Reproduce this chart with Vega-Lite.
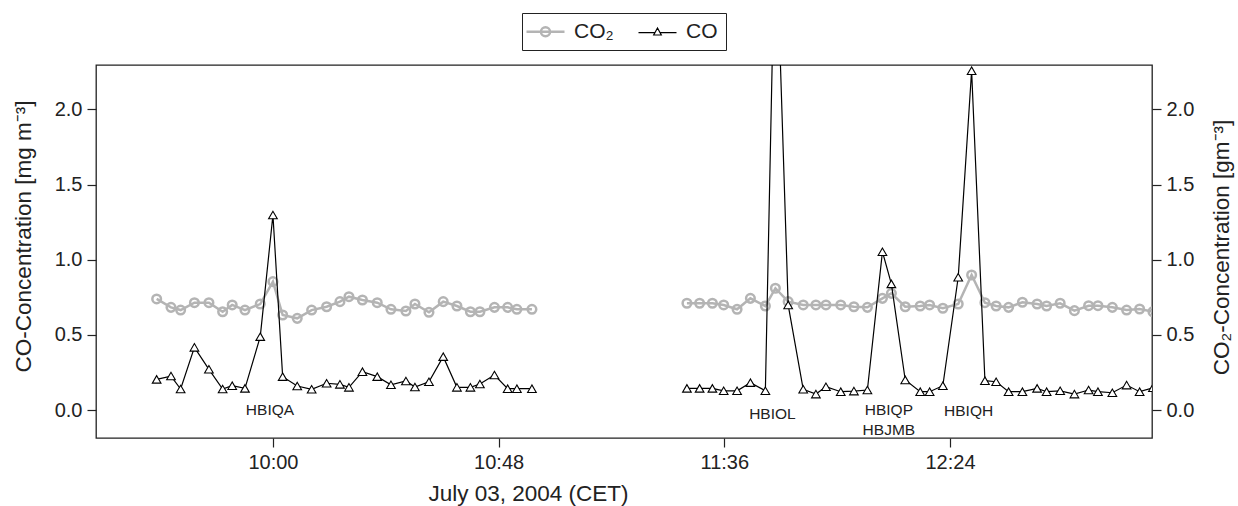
{
  "$schema": "https://vega.github.io/schema/vega-lite/v6.json",
  "width": 1056,
  "height": 373,
  "autosize": {"type": "none"},
  "padding": {"left": 96, "top": 65, "right": 86, "bottom": 68},
  "background": "white",
  "config": {
    "font": "Liberation Sans",
    "view": {"stroke": "#222222", "strokeWidth": 1.3},
    "axis": {
      "labelFont": "Liberation Sans", "titleFont": "Liberation Sans",
      "labelFontSize": 20, "titleFontSize": 22.5, "titleFontWeight": "normal",
      "labelColor": "#222222", "titleColor": "#222222", "tickColor": "#222222",
      "tickSize": 9, "tickWidth": 1.2, "domain": false, "grid": false, "labelPadding": 5
    }
  },
  "datasets": {
    "co2": [
      {"time": "2004-07-03T09:35:16", "value": 0.739, "period": 1, "series": "CO₂"},
      {"time": "2004-07-03T09:38:19", "value": 0.683, "period": 1, "series": "CO₂"},
      {"time": "2004-07-03T09:40:22", "value": 0.665, "period": 1, "series": "CO₂"},
      {"time": "2004-07-03T09:43:18", "value": 0.714, "period": 1, "series": "CO₂"},
      {"time": "2004-07-03T09:46:23", "value": 0.714, "period": 1, "series": "CO₂"},
      {"time": "2004-07-03T09:49:18", "value": 0.654, "period": 1, "series": "CO₂"},
      {"time": "2004-07-03T09:51:20", "value": 0.699, "period": 1, "series": "CO₂"},
      {"time": "2004-07-03T09:54:03", "value": 0.665, "period": 1, "series": "CO₂"},
      {"time": "2004-07-03T09:57:18", "value": 0.705, "period": 1, "series": "CO₂"},
      {"time": "2004-07-03T10:00:00", "value": 0.854, "period": 1, "series": "CO₂"},
      {"time": "2004-07-03T10:02:04", "value": 0.632, "period": 1, "series": "CO₂"},
      {"time": "2004-07-03T10:05:10", "value": 0.61, "period": 1, "series": "CO₂"},
      {"time": "2004-07-03T10:08:14", "value": 0.665, "period": 1, "series": "CO₂"},
      {"time": "2004-07-03T10:11:25", "value": 0.687, "period": 1, "series": "CO₂"},
      {"time": "2004-07-03T10:14:15", "value": 0.721, "period": 1, "series": "CO₂"},
      {"time": "2004-07-03T10:16:10", "value": 0.754, "period": 1, "series": "CO₂"},
      {"time": "2004-07-03T10:19:02", "value": 0.732, "period": 1, "series": "CO₂"},
      {"time": "2004-07-03T10:22:11", "value": 0.714, "period": 1, "series": "CO₂"},
      {"time": "2004-07-03T10:25:06", "value": 0.67, "period": 1, "series": "CO₂"},
      {"time": "2004-07-03T10:28:17", "value": 0.659, "period": 1, "series": "CO₂"},
      {"time": "2004-07-03T10:30:12", "value": 0.705, "period": 1, "series": "CO₂"},
      {"time": "2004-07-03T10:33:11", "value": 0.65, "period": 1, "series": "CO₂"},
      {"time": "2004-07-03T10:36:13", "value": 0.721, "period": 1, "series": "CO₂"},
      {"time": "2004-07-03T10:39:08", "value": 0.692, "period": 1, "series": "CO₂"},
      {"time": "2004-07-03T10:42:00", "value": 0.654, "period": 1, "series": "CO₂"},
      {"time": "2004-07-03T10:44:01", "value": 0.654, "period": 1, "series": "CO₂"},
      {"time": "2004-07-03T10:47:07", "value": 0.683, "period": 1, "series": "CO₂"},
      {"time": "2004-07-03T10:49:55", "value": 0.683, "period": 1, "series": "CO₂"},
      {"time": "2004-07-03T10:51:53", "value": 0.67, "period": 1, "series": "CO₂"},
      {"time": "2004-07-03T10:55:05", "value": 0.67, "period": 1, "series": "CO₂"},
      {"time": "2004-07-03T11:28:03", "value": 0.71, "period": 2, "series": "CO₂"},
      {"time": "2004-07-03T11:30:45", "value": 0.71, "period": 2, "series": "CO₂"},
      {"time": "2004-07-03T11:33:28", "value": 0.71, "period": 2, "series": "CO₂"},
      {"time": "2004-07-03T11:35:52", "value": 0.699, "period": 2, "series": "CO₂"},
      {"time": "2004-07-03T11:38:43", "value": 0.67, "period": 2, "series": "CO₂"},
      {"time": "2004-07-03T11:41:33", "value": 0.743, "period": 2, "series": "CO₂"},
      {"time": "2004-07-03T11:44:44", "value": 0.692, "period": 2, "series": "CO₂"},
      {"time": "2004-07-03T11:46:52", "value": 0.81, "period": 2, "series": "CO₂"},
      {"time": "2004-07-03T11:49:35", "value": 0.721, "period": 2, "series": "CO₂"},
      {"time": "2004-07-03T11:52:47", "value": 0.699, "period": 2, "series": "CO₂"},
      {"time": "2004-07-03T11:55:29", "value": 0.699, "period": 2, "series": "CO₂"},
      {"time": "2004-07-03T11:57:37", "value": 0.699, "period": 2, "series": "CO₂"},
      {"time": "2004-07-03T12:00:46", "value": 0.699, "period": 2, "series": "CO₂"},
      {"time": "2004-07-03T12:03:34", "value": 0.687, "period": 2, "series": "CO₂"},
      {"time": "2004-07-03T12:06:26", "value": 0.683, "period": 2, "series": "CO₂"},
      {"time": "2004-07-03T12:09:38", "value": 0.743, "period": 2, "series": "CO₂"},
      {"time": "2004-07-03T12:11:32", "value": 0.776, "period": 2, "series": "CO₂"},
      {"time": "2004-07-03T12:14:29", "value": 0.687, "period": 2, "series": "CO₂"},
      {"time": "2004-07-03T12:17:40", "value": 0.692, "period": 2, "series": "CO₂"},
      {"time": "2004-07-03T12:19:40", "value": 0.699, "period": 2, "series": "CO₂"},
      {"time": "2004-07-03T12:22:29", "value": 0.677, "period": 2, "series": "CO₂"},
      {"time": "2004-07-03T12:25:45", "value": 0.705, "period": 2, "series": "CO₂"},
      {"time": "2004-07-03T12:28:36", "value": 0.898, "period": 2, "series": "CO₂"},
      {"time": "2004-07-03T12:31:26", "value": 0.714, "period": 2, "series": "CO₂"},
      {"time": "2004-07-03T12:33:49", "value": 0.692, "period": 2, "series": "CO₂"},
      {"time": "2004-07-03T12:36:28", "value": 0.683, "period": 2, "series": "CO₂"},
      {"time": "2004-07-03T12:39:24", "value": 0.717, "period": 2, "series": "CO₂"},
      {"time": "2004-07-03T12:42:32", "value": 0.705, "period": 2, "series": "CO₂"},
      {"time": "2004-07-03T12:44:33", "value": 0.692, "period": 2, "series": "CO₂"},
      {"time": "2004-07-03T12:47:26", "value": 0.71, "period": 2, "series": "CO₂"},
      {"time": "2004-07-03T12:50:28", "value": 0.661, "period": 2, "series": "CO₂"},
      {"time": "2004-07-03T12:53:29", "value": 0.694, "period": 2, "series": "CO₂"},
      {"time": "2004-07-03T12:55:28", "value": 0.694, "period": 2, "series": "CO₂"},
      {"time": "2004-07-03T12:58:32", "value": 0.683, "period": 2, "series": "CO₂"},
      {"time": "2004-07-03T13:01:34", "value": 0.665, "period": 2, "series": "CO₂"},
      {"time": "2004-07-03T13:04:20", "value": 0.672, "period": 2, "series": "CO₂"},
      {"time": "2004-07-03T13:07:10", "value": 0.654, "period": 2, "series": "CO₂"}
    ],
    "co": [
      {"time": "2004-07-03T09:35:16", "value": 0.204, "period": 1, "series": "CO"},
      {"time": "2004-07-03T09:38:19", "value": 0.226, "period": 1, "series": "CO"},
      {"time": "2004-07-03T09:40:22", "value": 0.14, "period": 1, "series": "CO"},
      {"time": "2004-07-03T09:43:18", "value": 0.417, "period": 1, "series": "CO"},
      {"time": "2004-07-03T09:46:23", "value": 0.271, "period": 1, "series": "CO"},
      {"time": "2004-07-03T09:49:18", "value": 0.14, "period": 1, "series": "CO"},
      {"time": "2004-07-03T09:51:20", "value": 0.162, "period": 1, "series": "CO"},
      {"time": "2004-07-03T09:54:03", "value": 0.144, "period": 1, "series": "CO"},
      {"time": "2004-07-03T09:57:18", "value": 0.488, "period": 1, "series": "CO"},
      {"time": "2004-07-03T10:00:00", "value": 1.297, "period": 1, "series": "CO"},
      {"time": "2004-07-03T10:02:04", "value": 0.222, "period": 1, "series": "CO"},
      {"time": "2004-07-03T10:05:10", "value": 0.16, "period": 1, "series": "CO"},
      {"time": "2004-07-03T10:08:14", "value": 0.138, "period": 1, "series": "CO"},
      {"time": "2004-07-03T10:11:25", "value": 0.178, "period": 1, "series": "CO"},
      {"time": "2004-07-03T10:14:15", "value": 0.171, "period": 1, "series": "CO"},
      {"time": "2004-07-03T10:16:10", "value": 0.151, "period": 1, "series": "CO"},
      {"time": "2004-07-03T10:19:02", "value": 0.255, "period": 1, "series": "CO"},
      {"time": "2004-07-03T10:22:11", "value": 0.222, "period": 1, "series": "CO"},
      {"time": "2004-07-03T10:25:06", "value": 0.168, "period": 1, "series": "CO"},
      {"time": "2004-07-03T10:28:17", "value": 0.193, "period": 1, "series": "CO"},
      {"time": "2004-07-03T10:30:12", "value": 0.153, "period": 1, "series": "CO"},
      {"time": "2004-07-03T10:33:11", "value": 0.188, "period": 1, "series": "CO"},
      {"time": "2004-07-03T10:36:13", "value": 0.355, "period": 1, "series": "CO"},
      {"time": "2004-07-03T10:39:08", "value": 0.151, "period": 1, "series": "CO"},
      {"time": "2004-07-03T10:42:00", "value": 0.151, "period": 1, "series": "CO"},
      {"time": "2004-07-03T10:44:01", "value": 0.173, "period": 1, "series": "CO"},
      {"time": "2004-07-03T10:47:07", "value": 0.233, "period": 1, "series": "CO"},
      {"time": "2004-07-03T10:49:55", "value": 0.142, "period": 1, "series": "CO"},
      {"time": "2004-07-03T10:51:53", "value": 0.142, "period": 1, "series": "CO"},
      {"time": "2004-07-03T10:55:05", "value": 0.142, "period": 1, "series": "CO"},
      {"time": "2004-07-03T11:28:03", "value": 0.144, "period": 2, "series": "CO"},
      {"time": "2004-07-03T11:30:45", "value": 0.144, "period": 2, "series": "CO"},
      {"time": "2004-07-03T11:33:28", "value": 0.144, "period": 2, "series": "CO"},
      {"time": "2004-07-03T11:35:52", "value": 0.128, "period": 2, "series": "CO"},
      {"time": "2004-07-03T11:38:43", "value": 0.128, "period": 2, "series": "CO"},
      {"time": "2004-07-03T11:41:33", "value": 0.182, "period": 2, "series": "CO"},
      {"time": "2004-07-03T11:44:44", "value": 0.128, "period": 2, "series": "CO"},
      {"time": "2004-07-03T11:46:52", "value": 3.34, "period": 2, "series": "CO"},
      {"time": "2004-07-03T11:49:35", "value": 0.699, "period": 2, "series": "CO"},
      {"time": "2004-07-03T11:52:47", "value": 0.138, "period": 2, "series": "CO"},
      {"time": "2004-07-03T11:55:29", "value": 0.106, "period": 2, "series": "CO"},
      {"time": "2004-07-03T11:57:37", "value": 0.155, "period": 2, "series": "CO"},
      {"time": "2004-07-03T12:00:46", "value": 0.122, "period": 2, "series": "CO"},
      {"time": "2004-07-03T12:03:34", "value": 0.126, "period": 2, "series": "CO"},
      {"time": "2004-07-03T12:06:26", "value": 0.133, "period": 2, "series": "CO"},
      {"time": "2004-07-03T12:09:38", "value": 1.053, "period": 2, "series": "CO"},
      {"time": "2004-07-03T12:11:32", "value": 0.839, "period": 2, "series": "CO"},
      {"time": "2004-07-03T12:14:29", "value": 0.2, "period": 2, "series": "CO"},
      {"time": "2004-07-03T12:17:40", "value": 0.122, "period": 2, "series": "CO"},
      {"time": "2004-07-03T12:19:40", "value": 0.122, "period": 2, "series": "CO"},
      {"time": "2004-07-03T12:22:29", "value": 0.162, "period": 2, "series": "CO"},
      {"time": "2004-07-03T12:25:45", "value": 0.883, "period": 2, "series": "CO"},
      {"time": "2004-07-03T12:28:36", "value": 2.257, "period": 2, "series": "CO"},
      {"time": "2004-07-03T12:31:26", "value": 0.195, "period": 2, "series": "CO"},
      {"time": "2004-07-03T12:33:49", "value": 0.188, "period": 2, "series": "CO"},
      {"time": "2004-07-03T12:36:28", "value": 0.122, "period": 2, "series": "CO"},
      {"time": "2004-07-03T12:39:24", "value": 0.122, "period": 2, "series": "CO"},
      {"time": "2004-07-03T12:42:32", "value": 0.144, "period": 2, "series": "CO"},
      {"time": "2004-07-03T12:44:33", "value": 0.122, "period": 2, "series": "CO"},
      {"time": "2004-07-03T12:47:26", "value": 0.128, "period": 2, "series": "CO"},
      {"time": "2004-07-03T12:50:28", "value": 0.106, "period": 2, "series": "CO"},
      {"time": "2004-07-03T12:53:29", "value": 0.133, "period": 2, "series": "CO"},
      {"time": "2004-07-03T12:55:28", "value": 0.122, "period": 2, "series": "CO"},
      {"time": "2004-07-03T12:58:32", "value": 0.115, "period": 2, "series": "CO"},
      {"time": "2004-07-03T13:01:34", "value": 0.166, "period": 2, "series": "CO"},
      {"time": "2004-07-03T13:04:20", "value": 0.122, "period": 2, "series": "CO"},
      {"time": "2004-07-03T13:07:10", "value": 0.148, "period": 2, "series": "CO"}
    ],
    "labels": [
      {"time": "2004-07-03T09:59:22", "value": 0.0, "label": "HBIQA"},
      {"time": "2004-07-03T11:46:14", "value": -0.027, "label": "HBIOL"},
      {"time": "2004-07-03T12:11:00", "value": 0.003, "label": "HBIQP"},
      {"time": "2004-07-03T12:11:00", "value": -0.13, "label": "HBJMB"},
      {"time": "2004-07-03T12:27:58", "value": -0.005, "label": "HBIQH"}
    ]
  },
  "encoding": {
    "x": {
      "field": "time", "type": "temporal",
      "scale": {
        "domain": [
          {"year": 2004, "month": 7, "date": 3, "hours": 9, "minutes": 22, "seconds": 22},
          {"year": 2004, "month": 7, "date": 3, "hours": 13, "minutes": 6, "seconds": 58}
        ]
      },
      "axis": {
        "title": "July 03, 2004 (CET)",
        "format": "%H:%M",
        "values": [
          {"year": 2004, "month": 7, "date": 3, "hours": 10, "minutes": 0},
          {"year": 2004, "month": 7, "date": 3, "hours": 10, "minutes": 48},
          {"year": 2004, "month": 7, "date": 3, "hours": 11, "minutes": 36},
          {"year": 2004, "month": 7, "date": 3, "hours": 12, "minutes": 24}
        ],
        "labelPadding": 5,
        "titlePadding": 10,
        "titleX": 432
      }
    }
  },
  "layer": [
    {
      "data": {"name": "co2"},
      "encoding": {
        "y": {
          "field": "value", "type": "quantitative",
          "scale": {"domain": [-0.186, 2.295], "nice": false, "zero": false},
          "axis": {
            "orient": "right", "values": [0, 0.5, 1, 1.5, 2], "format": ".1f",
            "title": "CO₂-Concentration [gm⁻³]", "titleAngle": 270, "titleBaseline": "top", "titlePadding": 17,
            "titleY": 182
          }
        },
        "color": {
          "field": "series", "type": "nominal",
          "scale": {"domain": ["CO₂", "CO"], "range": ["#b4b4b4", "#000000"]},
          "legend": {
            "title": null, "orient": "none", "legendX": 426, "legendY": -52,
            "direction": "horizontal", "strokeColor": "#222222", "fillColor": "white",
            "padding": 8, "labelFontSize": 21, "labelFont": "Liberation Sans", "labelColor": "#222222",
            "symbolSize": 1444, "symbolOffset": 5, "columnPadding": 22, "labelOffset": 18,
            "encode": {
              "symbols": {
                "update": {
                  "shape": {"signal": "datum.value === 'CO' ? 'M-1,0.05H-0.135M0.135,0.05H1M0,-0.2L0.2,0.17L-0.2,0.17Z' : 'M-1,0H1M0.24,0A0.24,0.24,0,1,1,-0.24,0A0.24,0.24,0,1,1,0.24,0'"},
                  "size": {"value": 1444},
                  "strokeWidth": {"signal": "datum.value === 'CO' ? 1.2 : 2.5"},
                  "fill": {"signal": "datum.value === 'CO' ? 'white' : 'transparent'"},
                  "stroke": {"signal": "datum.value === 'CO' ? '#000000' : '#b4b4b4'"},
                  "opacity": {"value": 1}
                }
              }
            }
          }
        },
        "detail": {"field": "period", "type": "nominal"}
      },
      "layer": [
        {"mark": {"type": "line", "strokeWidth": 2.5, "clip": true}},
        {"mark": {"type": "point", "shape": "circle", "size": 74, "strokeWidth": 2.5, "filled": false, "opacity": 1, "clip": true}}
      ]
    },
    {
      "encoding": {
        "y": {
          "field": "value", "type": "quantitative",
          "scale": {"domain": [-0.186, 2.295], "nice": false, "zero": false},
          "axis": {
            "orient": "left", "values": [0, 0.5, 1, 1.5, 2], "format": ".1f",
            "title": "CO-Concentration [mg m⁻³]", "titlePadding": 19, "titleY": 171
          }
        }
      },
      "layer": [
        {
          "data": {"name": "co"},
          "encoding": {
            "color": {"field": "series", "type": "nominal"},
            "detail": {"field": "period", "type": "nominal"}
          },
          "layer": [
            {"mark": {"type": "line", "strokeWidth": 1.2, "clip": true}},
            {"mark": {"type": "point", "shape": "triangle-up", "size": 75, "strokeWidth": 1.1, "filled": false, "fill": "white", "fillOpacity": 1, "opacity": 1, "clip": true}}
          ]
        },
        {
          "data": {"name": "labels"},
          "mark": {"type": "text", "font": "Liberation Sans", "fontSize": 15.5, "color": "#222222", "align": "center", "baseline": "middle"},
          "encoding": {"text": {"field": "label", "type": "nominal"}}
        }
      ]
    }
  ],
  "resolve": {"scale": {"y": "independent"}}
}
